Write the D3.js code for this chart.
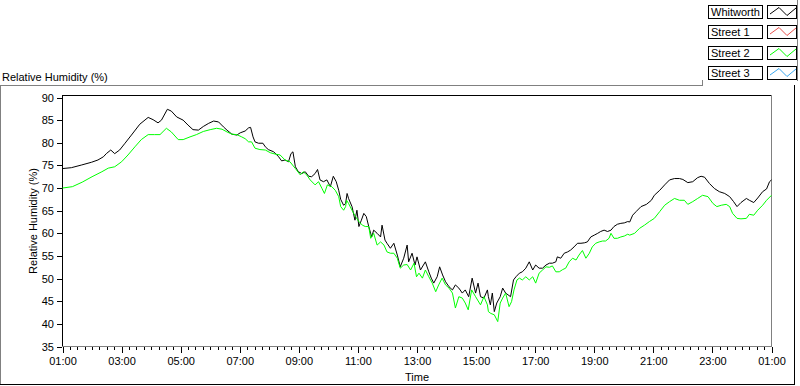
<!DOCTYPE html>
<html>
<head>
<meta charset="utf-8">
<script src="https://cdn.jsdelivr.net/npm/d3@7"></script>
<style>
  body { margin: 0; background: #fff; }
  svg { font-family: "Liberation Sans", Arial, sans-serif; font-size: 11px; }
</style>
</head>
<body>
<div id="chart"></div>
<script>
// legend entries (Street 1 and Street 3 have no data drawn)
let seriesNames = ["Whitworth", "Street 1", "Street 2", "Street 3"];
let seriesColors = ["#000000", "#e8504c", "#00ff00", "#3aa8f0"];

let yTicks = [35, 40, 45, 50, 55, 60, 65, 70, 75, 80, 85, 90];
// labelled x ticks, hours after 01:00
let xTickHours = [0, 2, 4, 6, 8, 10, 12, 14, 16, 18, 20, 22, 24];

// [minutes after 01:00, relative humidity %]
let whitworth = [
  [0,74.3],[18,74.5],[39,75.1],[59,75.7],[72,76.2],[83,76.9],[89,77.6],[98,78.4],[106,77.6],[116,78.4],
  [127,79.9],[140,81.7],[157,84.1],[174,85.6],[184,85.1],[194,84.4],[201,85.0],[213,87.4],[221,87.0],[232,85.7],
  [245,85.0],[255,83.9],[265,82.9],[276,82.8],[286,83.6],[297,84.3],[307,84.8],[317,84.6],[327,83.5],[334,82.8],
  [344,81.9],[354,81.7],[361,82.2],[371,82.6],[378,83.3],[382,83.4],[387,81.3],[391,80.2],[398,79.9],[407,79.9],
  [412,79.1],[418,78.5],[429,78.0],[439,76.9],[445,76.0],[452,76.2],[459,75.8],[464,77.6],[468,78.0],[473,74.7],
  [479,73.6],[486,73.2],[493,73.6],[500,72.6],[506,72.5],[513,73.2],[518,74.1],[523,71.8],[530,71.4],[537,71.8],
  [544,70.3],[550,72.6],[556,71.4],[561,69.5],[565,67.5],[571,66.2],[575,66.6],[578,68.8],[581,67.7],[588,65.9],
  [594,62.9],[598,65.1],[602,61.5],[607,62.9],[612,64.4],[617,63.7],[622,61.5],[628,59.2],[632,60.7],[639,60.0],
  [646,59.2],[649,61.8],[655,58.5],[659,57.8],[666,56.7],[673,57.8],[680,55.2],[686,52.6],[693,54.5],[700,57.4],
  [703,53.7],[710,55.6],[716,53.0],[720,54.8],[727,51.9],[737,53.7],[744,51.5],[749,50.1],[754,49.0],[761,50.4],
  [766,52.6],[772,50.8],[778,49.3],[785,48.2],[792,47.5],[798,48.6],[805,47.9],[812,46.8],[818,47.5],[825,46.0],
  [832,50.1],[839,46.8],[844,49.0],[849,46.0],[856,45.7],[863,47.5],[865,46.0],[869,44.2],[873,46.8],[877,42.7],
  [882,44.6],[889,46.0],[894,47.9],[900,46.8],[905,46.4],[910,46.0],[916,49.7],[921,50.4],[928,51.2],[934,51.5],
  [941,52.3],[948,53.7],[955,51.9],[961,53.0],[968,52.3],[975,52.3],[982,53.0],[989,53.4],[995,53.4],[1002,53.7],
  [1005,54.8],[1012,54.5],[1019,55.6],[1026,55.9],[1032,56.3],[1039,57.0],[1046,57.8],[1053,57.8],[1060,57.9],[1066,58.1],
  [1073,59.2],[1080,59.6],[1087,60.0],[1093,60.4],[1100,60.7],[1107,60.4],[1114,60.7],[1120,61.5],[1127,62.0],[1134,62.2],
  [1141,62.3],[1148,62.6],[1152,62.5],[1158,64.0],[1165,64.8],[1175,65.9],[1186,66.4],[1196,67.3],[1202,68.4],[1213,69.5],
  [1223,70.7],[1233,71.8],[1243,72.1],[1253,72.1],[1260,71.9],[1270,71.2],[1280,71.4],[1290,72.3],[1297,72.6],[1304,72.4],
  [1314,71.0],[1324,69.9],[1334,69.2],[1345,68.8],[1355,68.1],[1363,67.0],[1370,65.9],[1378,66.8],[1389,67.7],[1395,67.3],
  [1404,66.8],[1412,67.8],[1422,69.2],[1430,69.8],[1436,71.4],[1440,71.8]
];

let street2 = [
  [0,70.0],[20,70.3],[40,71.3],[60,72.5],[80,73.6],[93,74.4],[106,74.7],[120,75.8],[133,77.3],[147,79.1],
  [160,80.7],[174,81.8],[187,81.8],[198,81.8],[211,83.2],[221,82.4],[235,80.7],[245,80.7],[259,81.3],[272,81.8],
  [286,82.5],[300,82.9],[313,83.2],[324,83.0],[334,82.4],[344,81.9],[354,81.8],[364,81.3],[371,80.9],[378,80.2],
  [384,80.2],[391,78.8],[401,78.5],[412,78.4],[422,77.8],[432,77.5],[442,77.3],[452,76.2],[462,75.8],[473,74.3],
  [483,72.9],[489,73.6],[496,72.9],[503,71.8],[513,70.7],[520,71.4],[527,69.9],[532,68.8],[538,70.7],[547,70.3],
  [554,69.5],[561,68.1],[565,65.9],[571,65.1],[575,65.9],[577,67.3],[581,66.6],[588,65.1],[595,63.7],[602,62.6],
  [609,61.8],[615,61.5],[622,61.5],[626,58.9],[632,60.0],[639,57.4],[646,58.1],[653,57.4],[659,55.9],[666,55.6],
  [673,55.6],[680,54.5],[686,52.3],[693,53.0],[700,53.1],[707,51.9],[714,53.4],[719,50.4],[724,51.2],[731,50.1],
  [737,51.9],[744,50.4],[751,49.0],[758,47.1],[764,48.6],[771,50.1],[778,48.6],[785,47.9],[792,46.8],[798,43.5],
  [805,46.0],[812,45.7],[818,44.6],[824,43.1],[831,47.5],[839,46.0],[849,44.2],[856,46.0],[863,44.2],[865,42.7],
  [870,42.3],[877,42.0],[884,40.5],[889,44.6],[894,45.7],[900,46.8],[907,43.8],[912,44.9],[917,47.5],[923,49.7],
  [928,50.1],[934,49.7],[941,50.4],[948,49.7],[955,50.4],[961,49.0],[968,51.2],[975,51.9],[982,52.6],[989,52.5],
  [995,52.8],[1002,51.5],[1009,51.5],[1016,52.0],[1022,52.3],[1029,53.7],[1036,54.5],[1043,54.1],[1049,55.2],[1056,56.2],
  [1063,54.5],[1070,55.6],[1076,57.0],[1083,57.8],[1090,58.1],[1097,58.3],[1103,58.3],[1110,58.9],[1114,60.0],[1120,58.9],
  [1127,58.9],[1134,59.2],[1141,59.4],[1148,59.8],[1152,59.6],[1162,60.0],[1172,61.1],[1182,61.8],[1192,62.6],[1202,63.3],
  [1213,64.8],[1223,66.2],[1233,67.0],[1243,67.7],[1253,67.3],[1263,67.3],[1270,66.4],[1280,67.0],[1290,67.7],[1300,68.4],
  [1311,68.1],[1321,66.6],[1329,65.9],[1338,66.2],[1348,66.4],[1355,65.9],[1361,64.4],[1370,63.3],[1378,63.2],[1389,63.3],
  [1395,64.2],[1404,64.0],[1412,65.1],[1422,66.2],[1430,67.3],[1440,68.4]
];

let width = 800;
let height = 386;
let t0 = new Date(2000, 0, 1, 1, 0);
let t1 = new Date(2000, 0, 2, 1, 0);

let xScale = d3.scaleTime().domain([t0, t1]).range([62.5, 771.5]);
let yScale = d3.scaleLinear().domain([35, 90]).range([346.5, 97.5]);

function toDate(m) { return d3.timeMinute.offset(t0, m); }

let svg = d3.select("#chart").append("svg")
  .attr("width", width).attr("height", height);

function hline(x1, x2, y, color) {
  svg.append("line").attr("x1", x1).attr("x2", x2).attr("y1", y).attr("y2", y)
    .attr("stroke", color).attr("shape-rendering", "crispEdges");
}
function vline(x, y1, y2, color) {
  svg.append("line").attr("x1", x).attr("x2", x).attr("y1", y1).attr("y2", y2)
    .attr("stroke", color).attr("shape-rendering", "crispEdges");
}

// outer frame
hline(0, 703, 85.5, "#808080");
vline(702.5, 80, 86, "#808080");
vline(0.5, 85, 385, "#808080");
hline(0, 795, 384.5, "#000");
vline(794.5, 85, 385, "#000");
vline(797.5, 0, 81, "#808080");

// top label
svg.append("text").attr("x", 2).attr("y", 81).text("Relative Humidity (%)");

// plot area frame
hline(62, 772, 95.5, "#000");
vline(62.5, 95, 347, "#000");
hline(62, 772, 346.5, "#808080");
vline(771.5, 95, 347, "#808080");

// y axis
let yAxis = svg.append("g").attr("transform", "translate(62,0)")
  .call(d3.axisLeft(yScale).tickValues(yTicks).tickSize(5).tickPadding(3));
yAxis.select(".domain").remove();

// x axis, minor then major ticks
let xMinor = svg.append("g").attr("transform", "translate(0,347)")
  .call(d3.axisBottom(xScale).ticks(d3.timeMinute.every(15)).tickSize(3).tickFormat(""));
xMinor.select(".domain").remove();
let xAxis = svg.append("g").attr("transform", "translate(0,347)")
  .call(d3.axisBottom(xScale)
    .tickValues(xTickHours.map(function (h) { return d3.timeHour.offset(t0, h); }))
    .tickSize(6).tickPadding(4)
    .tickFormat(d3.timeFormat("%H:%M")));
xAxis.select(".domain").remove();

svg.selectAll(".tick line").attr("stroke", "#000").attr("shape-rendering", "crispEdges");
svg.selectAll(".tick text").attr("fill", "#000")
  .style("font-family", "'Liberation Sans', Arial, sans-serif").style("font-size", "11px");

// axis titles
svg.append("text").attr("transform", "translate(37,221) rotate(-90)")
  .attr("text-anchor", "middle").text("Relative Humidity (%)");
svg.append("text").attr("x", 417).attr("y", 381).attr("text-anchor", "middle").text("Time");

// plot lines
let line = d3.line()
  .x(function (d) { return xScale(toDate(d[0])); })
  .y(function (d) { return yScale(d[1]); });

svg.append("path").datum(whitworth).attr("d", line)
  .attr("fill", "none").attr("stroke", seriesColors[0]).attr("stroke-width", 1);
svg.append("path").datum(street2).attr("d", line)
  .attr("fill", "none").attr("stroke", seriesColors[2]).attr("stroke-width", 1);

// legend
let legend = svg.append("g");
seriesNames.forEach(function (name, i) {
  let top = 4.5 + i * 20.5;
  let g = legend.append("g").attr("transform", "translate(0," + Math.round(top) + ")");
  // name box
  g.append("rect").attr("x", 708.5).attr("y", 0.5).attr("width", 54).attr("height", 13)
    .attr("fill", "#fff").attr("stroke", "#000").attr("shape-rendering", "crispEdges");
  g.append("text").attr("x", 711).attr("y", 11).text(name);
  // swatch box
  g.append("rect").attr("x", 767.5).attr("y", 0.5).attr("width", 29).attr("height", 13)
    .attr("fill", "#fff").attr("stroke", "#000").attr("shape-rendering", "crispEdges");
  g.append("polyline")
    .attr("points", "770,9 779,2.5 787,10.5 796,3")
    .attr("fill", "none").attr("stroke", seriesColors[i]);
});
</script>
</body>
</html>
